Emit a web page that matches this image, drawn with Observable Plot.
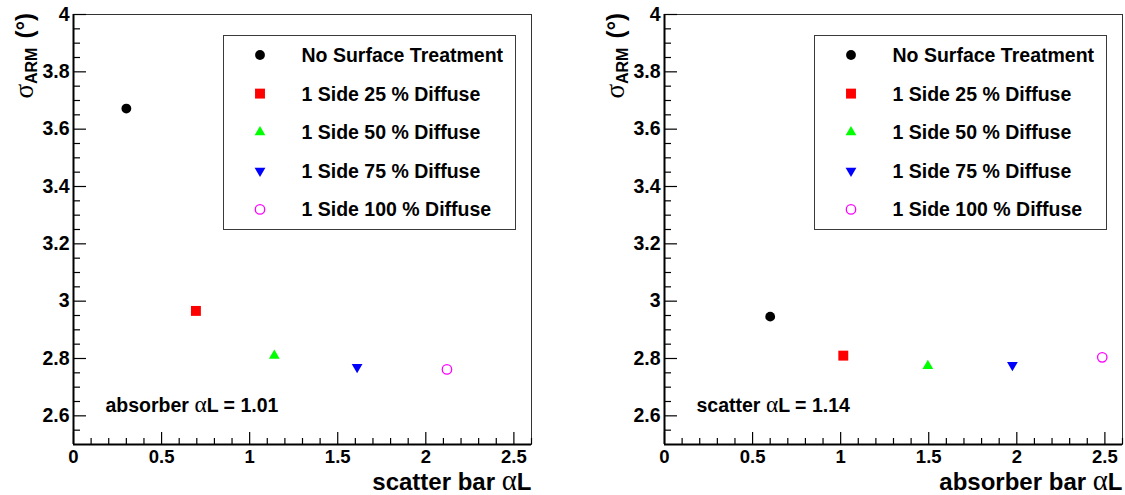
<!DOCTYPE html>
<html><head><meta charset="utf-8">
<script src="https://cdn.jsdelivr.net/npm/d3@7"></script>
<script src="https://cdn.jsdelivr.net/npm/@observablehq/plot@0.6"></script>
<style>
body{margin:0;background:#fff;}
#wrap{position:relative;width:1125px;height:495px;font-family:"Liberation Sans",Arial,sans-serif;}
.panel{position:absolute;top:0;}
.legend{position:absolute;box-sizing:border-box;border:1.3px solid #3a3a3a;background:#fff;}
</style></head><body><div id="wrap"></div>
<script>
// ---- data ----
const seriesNames = ["No Surface Treatment", "1 Side 25 % Diffuse", "1 Side 50 % Diffuse", "1 Side 75 % Diffuse", "1 Side 100 % Diffuse"];
const scatterBarX = [0.30, 0.695, 1.14, 1.61, 2.12];
const scatterBarY = [3.672, 2.966, 2.81, 2.77, 2.762];
const absorberBarX = [0.60, 1.015, 1.495, 1.975, 2.485];
const absorberBarY = [2.946, 2.81, 2.774, 2.777, 2.804];
const xTicks = [0, 0.5, 1, 1.5, 2, 2.5];
const yTicks = [2.6, 2.8, 3, 3.2, 3.4, 3.6, 3.8, 4];
const xTitles = ["scatter bar αL", "absorber bar αL"];
const notes = ["absorber αL = 1.01", "scatter αL = 1.14"];
const yTitleParts = ["σ", "ARM", "(°)"];

// ---- styles ----
const triangleDown = {
  draw(ctx, size) {
    const y = Math.sqrt(size / (Math.sqrt(3) * 3));
    ctx.moveTo(0, y * 2);
    ctx.lineTo(-Math.sqrt(3) * y, -y);
    ctx.lineTo(Math.sqrt(3) * y, -y);
    ctx.closePath();
  }
};
const markerStyles = [
  {symbol: "circle", d3sym: d3.symbolCircle, fill: "#000000", stroke: "none", r: 4.9},
  {symbol: "square", d3sym: d3.symbolSquare, fill: "#ff0000", stroke: "none", r: 5.6},
  {symbol: "triangle", d3sym: d3.symbolTriangle, fill: "#00ff00", stroke: "none", r: 4.0},
  {symbol: triangleDown, d3sym: triangleDown, fill: "#0000ff", stroke: "none", r: 4.0},
  {symbol: "circle", d3sym: d3.symbolCircle, fill: "none", stroke: "#ff00ff", r: 4.7, strokeWidth: 1.3}
];
const xMinor = d3.range(0, 27).map(i => i / 10).filter(v => !xTicks.some(t => Math.abs(t - v) < 1e-9));
const yMinor = d3.range(51, 81).map(i => i / 20).filter(v => !yTicks.some(t => Math.abs(t - v) < 1e-9));

const H = 495, mTop = 14, mBottom = 51, mLeft = 73, innerW = 458;
const innerH = H - mTop - mBottom;
const font = '"Liberation Sans", Arial, sans-serif';

function panel(xs, ys, xTitle, note, width, left) {
  const data = seriesNames.map((name, i) => ({name, x: xs[i], y: ys[i]}));
  const marks = [
    Plot.frame({stroke: "#333", strokeWidth: 1}),
    Plot.ruleX([0], {stroke: "#000", strokeWidth: 2}),
    Plot.ruleY([2.5], {stroke: "#000", strokeWidth: 2}),
    Plot.tickX(xTicks, {x: d => d, insetTop: innerH - 12, stroke: "#000", strokeWidth: 1.2}),
    Plot.tickX(xMinor, {x: d => d, insetTop: innerH - 6, stroke: "#000", strokeWidth: 1.2}),
    Plot.tickY(yTicks, {y: d => d, insetRight: innerW - 13, stroke: "#000", strokeWidth: 1.2}),
    Plot.tickY(yMinor, {y: d => d, insetRight: innerW - 7, stroke: "#000", strokeWidth: 1.2}),
    Plot.axisX(xTicks, {tickSize: 0, tickPadding: 5, fontSize: 18.5, fontWeight: "bold", label: null, tickFormat: d => `${d}`}),
    Plot.axisY(yTicks, {tickSize: 0, tickPadding: 4, fontSize: 19.5, fontWeight: "bold", label: null, tickFormat: d => `${d}`}),
    Plot.text([xTitle], {text: d => d, frameAnchor: "bottom-right", dy: 45, textAnchor: "end", lineAnchor: "bottom", fontSize: 24, fontWeight: "bold", fill: "#000"}),
    Plot.text([note], {text: d => d, frameAnchor: "bottom-left", dx: 32, dy: -33, textAnchor: "start", lineAnchor: "bottom", fontSize: 19.5, fontWeight: "bold", fill: "#000"})
  ];
  data.forEach((d, i) => {
    const s = markerStyles[i];
    marks.push(Plot.dot([d], {x: "x", y: "y", symbol: s.symbol, r: s.r, fill: s.fill, stroke: s.stroke, strokeWidth: s.strokeWidth || 1}));
  });
  const svg = Plot.plot({
    width, height: H,
    marginLeft: mLeft, marginTop: mTop, marginBottom: mBottom, marginRight: width - mLeft - innerW,
    x: {domain: [0, 2.6]},
    y: {domain: [2.5, 4]},
    style: {fontFamily: font, color: "#000", background: "transparent", overflow: "visible"},
    marks
  });
  const g = d3.select(svg);
  // y title with subscript
  const t = g.append("text")
    .attr("transform", `translate(33,13) rotate(-90)`)
    .attr("text-anchor", "end")
    .attr("font-size", 24).attr("font-weight", "bold").attr("fill", "#000")
    .attr("font-family", font);
  t.append("tspan").attr("font-family", '"Liberation Serif", serif').attr("font-weight", "normal").attr("font-size", 27).text(yTitleParts[0]);
  t.append("tspan").attr("font-size", 16).attr("dy", 4).text(yTitleParts[1]);
  t.append("tspan").attr("dy", -4).attr("dx", 9).text(yTitleParts[2]);
  // Greek alpha in symbol-like serif
  g.selectAll("text").each(function() {
    const s = this.textContent;
    if (this.childElementCount === 0 && s.includes("α")) {
      const parts = s.split("α");
      this.textContent = "";
      const el = d3.select(this);
      el.append("tspan").text(parts[0]);
      el.append("tspan").attr("font-family", '"Liberation Serif", serif').attr("font-weight", "normal").attr("font-size", "1.2em").text("α");
      el.append("tspan").text(parts[1]);
    }
  });
  const holder = document.createElement("div");
  holder.className = "panel";
  holder.style.left = left + "px";
  holder.appendChild(svg);
  // legend
  const leg = document.createElement("div");
  leg.className = "legend";
  leg.style.left = "223px"; leg.style.top = "35px"; leg.style.width = "293px"; leg.style.height = "195px";
  const lsvg = d3.select(leg).append("svg").attr("width", 291).attr("height", 193).style("position", "absolute").style("left", 0).style("top", 0);
  seriesNames.forEach((name, i) => {
    const s = markerStyles[i];
    const cy = 19 + i * 38.6;
    lsvg.append("path")
      .attr("transform", `translate(36,${cy})`)
      .attr("d", d3.symbol(s.d3sym, Math.PI * s.r * s.r)())
      .attr("fill", s.fill).attr("stroke", s.stroke).attr("stroke-width", s.strokeWidth || 1);
    lsvg.append("text").attr("x", 77.5).attr("y", cy + 7)
      .attr("font-family", font).attr("font-size", 19.5).attr("font-weight", "bold").attr("fill", "#000")
      .text(name);
  });
  holder.appendChild(leg);
  document.getElementById("wrap").appendChild(holder);
}

panel(scatterBarX, scatterBarY, xTitles[0], notes[0], 562, 0);
panel(absorberBarX, absorberBarY, xTitles[1], notes[1], 534, 591);
</script>
</body></html>
